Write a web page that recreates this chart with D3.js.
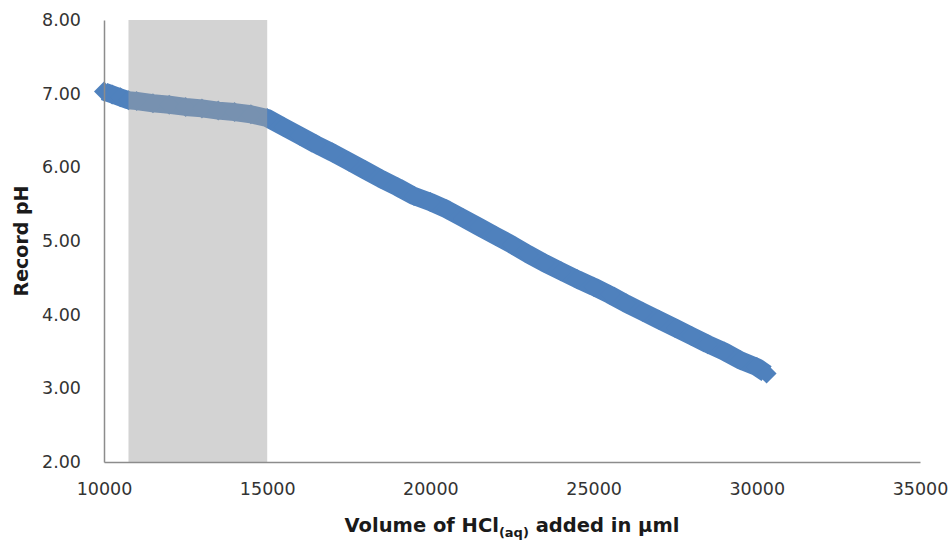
<!DOCTYPE html>
<html>
<head>
<meta charset="utf-8">
<script src="https://cdn.jsdelivr.net/npm/d3@7"></script>
<style>
  html, body { margin: 0; padding: 0; background: #fff; }
  svg { display: block; }
</style>
</head>
<body>
<svg id="chart" width="950" height="542"></svg>
<script>
// Titration readings: volume of HCl added (µml) and recorded pH
const volume = [10000, 10250, 10500, 10750, 11000, 11500, 12000, 12500, 13000, 13500,
  14000, 14500, 15000, 15500, 16000, 16500, 17000, 17500, 18000, 18500,
  19000, 19500, 20000, 20500, 21000, 21500, 22000, 22500, 23000, 23500,
  24000, 24500, 25000, 25500, 26000, 26500, 27000, 27500, 28000, 28500,
  29000, 29500, 30000, 30300];
const pH = [7.03, 6.99, 6.95, 6.91, 6.90, 6.87, 6.85, 6.82, 6.80, 6.77,
  6.75, 6.72, 6.67, 6.55, 6.43, 6.31, 6.20, 6.08, 5.96, 5.84,
  5.73, 5.61, 5.53, 5.43, 5.31, 5.19, 5.07, 4.95, 4.82, 4.70,
  4.59, 4.48, 4.38, 4.27, 4.15, 4.04, 3.93, 3.82, 3.71, 3.60,
  3.50, 3.38, 3.29, 3.20];

// Highlighted volume band
const bandRange = [10750, 15000];

// Axis ticks
const xTicks = [10000, 15000, 20000, 25000, 30000, 35000];
const yTicks = [2, 3, 4, 5, 6, 7, 8];

const svg = d3.select("#chart");
const plot = { left: 104, right: 920, top: 20, bottom: 462 };

const x = d3.scaleLinear().domain([10000, 35000]).range([plot.left, plot.right]);
const y = d3.scaleLinear().domain([2, 8]).range([plot.bottom, plot.top]);

const points = volume.map((v, i) => ({ v, p: pH[i] }));
const blue = "#4f81bd";

// Series: thick line with diamond markers
svg.append("path")
  .datum(points)
  .attr("d", d3.line().x(d => x(d.v)).y(d => y(d.p)))
  .attr("fill", "none")
  .attr("stroke", blue)
  .attr("stroke-width", 18)
  .attr("stroke-linejoin", "round");

const h = 10;
svg.append("g").selectAll("path")
  .data(points)
  .join("path")
  .attr("transform", d => `translate(${x(d.v)},${y(d.p)})`)
  .attr("d", `M0,${-h}L${h},0L0,${h}L${-h},0Z`)
  .attr("fill", blue);

// Shaded band drawn over the series
svg.append("rect")
  .attr("x", x(bandRange[0]))
  .attr("y", y(8))
  .attr("width", x(bandRange[1]) - x(bandRange[0]))
  .attr("height", y(2) - y(8))
  .attr("fill", "#a4a4a4")
  .attr("fill-opacity", 0.48);

// Axes
const xAxis = svg.append("g")
  .attr("transform", `translate(0,${plot.bottom})`)
  .call(d3.axisBottom(x).tickValues(xTicks).tickSize(0).tickPadding(21).tickFormat(d3.format("d")));
const yAxis = svg.append("g")
  .attr("transform", `translate(${plot.left},0)`)
  .call(d3.axisLeft(y).tickValues(yTicks).tickSize(0).tickPadding(23).tickFormat(d3.format(".2f")));

[xAxis, yAxis].forEach(g => {
  g.select(".domain").attr("stroke", "#8c8c8c").attr("stroke-width", 1.5);
  g.selectAll("text")
    .attr("fill", "#333")
    .style("font-family", "'DejaVu Sans', sans-serif")
    .style("font-size", "17.5px");
});

// Axis titles
const title = svg.append("text")
  .attr("x", (plot.left + plot.right) / 2)
  .attr("y", 532)
  .attr("text-anchor", "middle")
  .style("font-family", "'DejaVu Sans', sans-serif")
  .style("font-weight", "bold")
  .style("font-size", "19.5px")
  .attr("fill", "#1a1a1a");
title.append("tspan").text("Volume of HCl");
title.append("tspan").attr("dy", 5).style("font-size", "13px").text("(aq)");
title.append("tspan").attr("dy", -5).text(" added in µml");

svg.append("text")
  .attr("transform", `translate(28,${(plot.top + plot.bottom) / 2}) rotate(-90)`)
  .attr("text-anchor", "middle")
  .style("font-family", "'DejaVu Sans', sans-serif")
  .style("font-weight", "bold")
  .style("font-size", "19px")
  .attr("fill", "#1a1a1a")
  .text("Record pH");
</script>
</body>
</html>
